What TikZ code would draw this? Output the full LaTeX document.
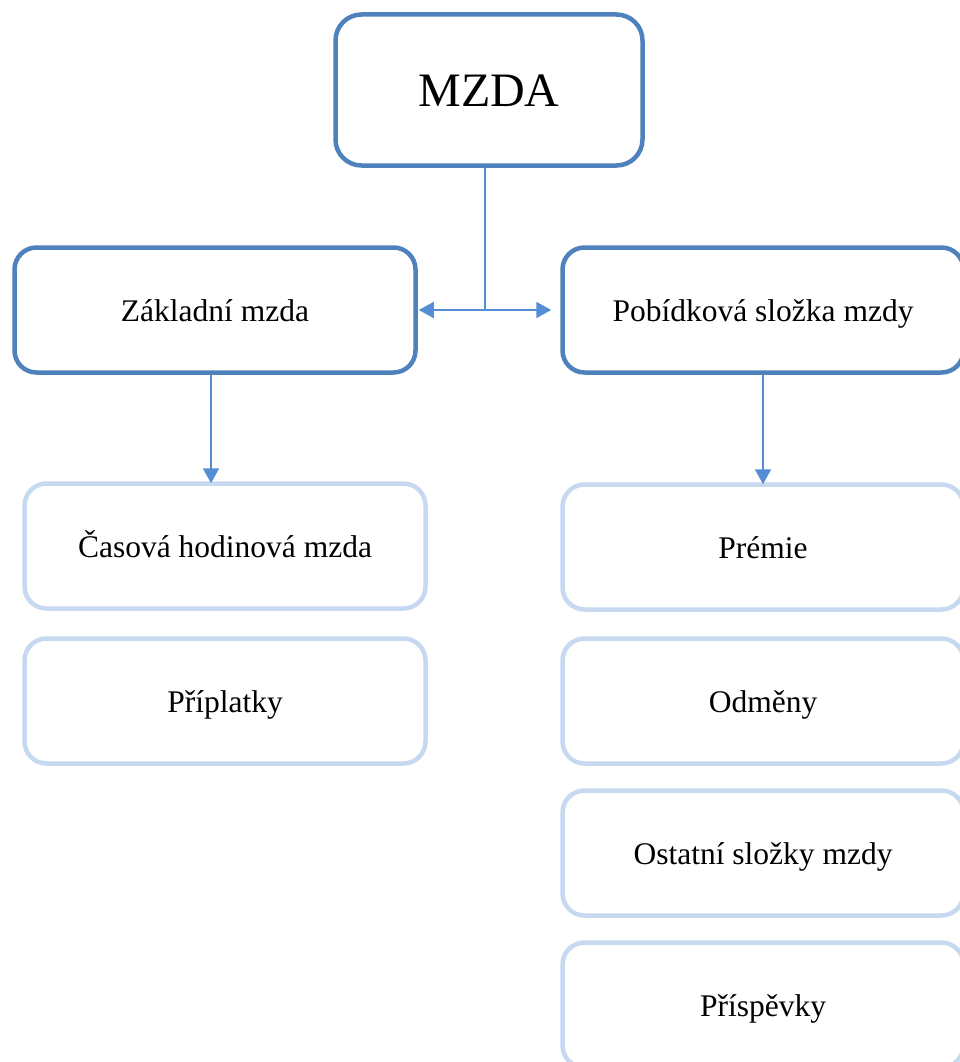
\documentclass[tikz,border=0pt]{standalone}
\usepackage{fontspec}
\setmainfont{Liberation Serif}
\usetikzlibrary{arrows.meta}
\definecolor{darkb}{RGB}{79,129,189}
\definecolor{lightb}{RGB}{198,217,241}
\definecolor{arrowb}{RGB}{85,142,213}
\begin{document}
\begin{tikzpicture}[x=1pt,y=-1pt,
  box/.style={draw, rounded corners=22pt, line width=4.5pt, fill=white,
    minimum width=401pt, minimum height=125pt, inner sep=0pt,
    font=\fontsize{31.5}{36}\selectfont, text height=23pt, text depth=1pt},
  darkbox/.style={box, draw=darkb},
  lightbox/.style={box, draw=lightb},
  conn/.style={draw=arrowb, line width=2pt, -{Triangle[length=15pt,width=16pt]}}]
\useasboundingbox (0,0) rectangle (959,1062);
\node[darkbox, minimum width=307pt, minimum height=151pt, rounded corners=26pt,
  font=\fontsize{48}{54}\selectfont, text height=34pt, text depth=1pt] (mzda) at (489,90) {MZDA};
\node[darkbox] (zakl) at (215,310) {Základní mzda};
\node[darkbox] (pob) at (763,310) {Pobídková složka mzdy};
\node[lightbox] (cas) at (225,546) {Časová hodinová mzda};
\node[lightbox] (pripl) at (225,701) {Příplatky};
\node[lightbox] (prem) at (763,547) {Prémie};
\node[lightbox] (odm) at (763,701) {Odměny};
\node[lightbox] (ost) at (763,853) {Ostatní složky mzdy};
\node[lightbox] (prisp) at (763,1005) {Příspěvky};
\coordinate (j) at ([xshift=-4pt]mzda.south |- zakl.east);
\draw[draw=arrowb, line width=2pt] ([xshift=-4pt]mzda.south) -- (j);
\draw[conn] (j) -- ([xshift=1pt]zakl.east);
\draw[conn] (j) -- ([xshift=-9pt]pob.west);
\draw[conn] ([xshift=-4pt]zakl.south) -- ([xshift=-4pt, yshift=-2pt]zakl.south |- cas.north);
\draw[conn] (pob.south) -- ([yshift=-2pt]pob.south |- prem.north);
\end{tikzpicture}
\end{document}
